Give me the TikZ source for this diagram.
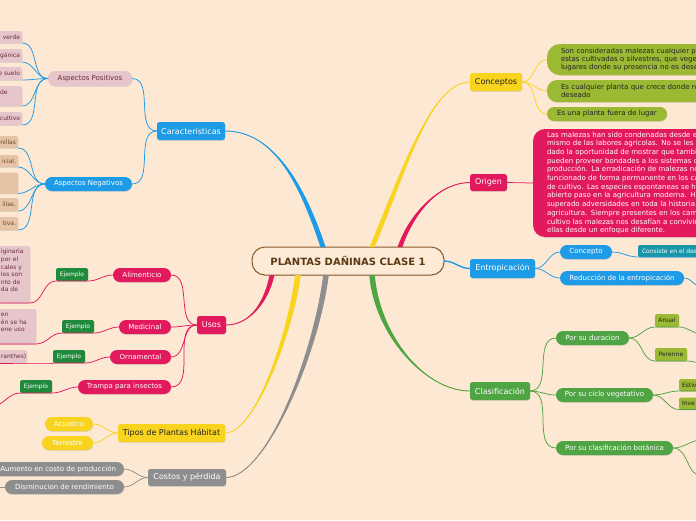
\documentclass[tikz,border=0pt]{standalone}
\usepackage{fontspec}
\setmainfont{DejaVu Sans}
\usetikzlibrary{calc,shadows}
\definecolor{bg}{HTML}{FDE8D4}
\definecolor{rootfill}{HTML}{FDEBD8}
\definecolor{rootdraw}{HTML}{8B5A2B}
\definecolor{roottext}{HTML}{5B3A14}
\definecolor{mmblue}{HTML}{1E9BE6}
\definecolor{mmred}{HTML}{E3195E}
\definecolor{mmyellow}{HTML}{F8D41F}
\definecolor{mmgray}{HTML}{8E8E8E}
\definecolor{mmgreen}{HTML}{4FA444}
\definecolor{mmolive}{HTML}{9CB934}
\definecolor{mmdkgreen}{HTML}{1F8A3B}
\definecolor{mmpink}{HTML}{E6C6CB}
\definecolor{mmtan}{HTML}{E6C3A5}
\definecolor{mmteal}{HTML}{1797A8}
\definecolor{maroon}{HTML}{6E2C40}
\definecolor{tanfg}{HTML}{6E4A2C}
\definecolor{darkfg}{HTML}{222222}
\newcommand\mmbranch[6]{%
  \fill[#1] ($(#2)+(-#6,0)$) .. controls +(#4) and +(#5) .. (#3) .. controls +(#5) and +(#4) .. ($(#2)+(#6,0)$) -- cycle;
  \draw[#1, line width=0.9pt] (#2) .. controls +(#4) and +(#5) .. (#3);}
\tikzset{
  nd/.style={inner sep=0pt, outer sep=0pt, align=center, drop shadow={shadow xshift=0.4pt,shadow yshift=-0.9pt,opacity=0.22}},
  bx/.style={nd, rounded corners=2.5pt, minimum height=18pt, font=\fontsize{8}{9.6}\selectfont},
  pl/.style={nd, rounded corners=7pt, minimum height=14pt, font=\fontsize{7}{8.4}\selectfont},
  tg/.style={nd, rounded corners=1.5pt, minimum height=13pt, font=\fontsize{6}{7.2}\selectfont},
  lf/.style={nd, rounded corners=2pt, font=\fontsize{6}{7.6}\selectfont, inner xsep=2pt, anchor=east},
  cn/.style={line width=0.75pt},
}
\begin{document}
\begin{tikzpicture}[x=1pt,y=-1pt]
\path[use as bounding box, fill=bg] (0,0) rectangle (696,520);
\clip (0,0) rectangle (696,520);

% root
\node[nd, rounded corners=13pt, minimum width=192pt, minimum height=28pt, fill=rootfill, draw=rootdraw, line width=1pt, text=roottext, font=\fontsize{10}{12}\selectfont\bfseries] (root) at (348,261) {PLANTAS DAÑINAS CLASE 1};

% main topics
\node[bx, fill=mmblue, text=white, minimum width=68pt] (car) at (191,131) {Características};
\node[bx, fill=mmyellow, text=darkfg, minimum width=52pt] (conc) at (496,82) {Conceptos};
\node[bx, fill=mmred, text=white, minimum width=37pt, minimum height=17pt] (ori) at (488.5,182.5) {Origen};
\node[bx, fill=mmblue, text=white, minimum width=65pt, minimum height=19pt] (ent) at (502.5,268.5) {Entropicación};
\node[bx, fill=mmgreen, text=white, minimum width=60pt] (cla) at (500,391) {Clasificación};
\node[bx, fill=mmred, text=white, minimum width=29pt] (usos) at (211.5,325) {Usos};
\node[bx, fill=mmyellow, text=darkfg, minimum width=107pt] (tipos) at (171.5,433) {Tipos de Plantas Hábitat};
\node[bx, fill=mmgray, text=white, minimum width=78pt, minimum height=17pt] (cos) at (187,477.5) {Costos y pérdida};

% branch start points
\coordinate (rb1) at ($(root.north)+(-25,0)$);
\coordinate (rb2) at ($(root.north)+(24,0)$);
\coordinate (rb3) at ($(root.north)+(52,0)$);
\coordinate (rb4) at ($(root.south)+(-76,0)$);
\coordinate (rb5) at ($(root.south)+(-50,0)$);
\coordinate (rb6) at ($(root.south)+(-22,0)$);
\coordinate (rb7) at ($(root.south)+(24,0)$);

\mmbranch{mmblue}{rb1}{car.east}{-20,-60}{50,0}{2.6}
\mmbranch{mmyellow}{rb2}{conc.west}{30,-70}{-40,0}{2.6}
\mmbranch{mmred}{rb3}{ori.west}{12,-35}{-30,0}{2.4}
\mmbranch{mmred}{rb4}{usos.east}{-5,25}{25,0}{2.4}
\mmbranch{mmyellow}{rb5}{tipos.east}{-8,60}{30,0}{2.8}
\mmbranch{mmgray}{rb6}{cos.east}{-10,80}{40,0}{2.8}
\mmbranch{mmgreen}{rb7}{cla.west}{5,60}{-45,0}{2.8}
\draw[mmblue, line width=1.4pt] (root.east) to[out=0,in=180] (ent.west);

% Caracteristicas subtree
\node[pl, fill=mmpink, text=maroon, minimum width=84pt, minimum height=15pt] (apos) at (90,78.5) {Aspectos Positivos};
\node[pl, fill=mmblue, text=white, minimum width=87pt] (aneg) at (88.5,184) {Aspectos Negativos};
\draw[cn, mmblue] (car.west) to[out=180,in=0] (apos.east);
\draw[cn, mmblue] (car.west) to[out=180,in=0] (aneg.east);

\node[lf, fill=mmpink, text=maroon, text width=40pt, align=right, minimum height=12pt] (p1) at (22,37) {verde};
\node[lf, fill=mmpink, text=maroon, text width=40pt, align=right, minimum height=13pt] (p2) at (22,55.5) {gánica};
\node[lf, fill=mmpink, text=maroon, text width=40pt, align=right, minimum height=13pt] (p3) at (22,73.5) {e suelo};
\node[lf, fill=mmpink, text=maroon, text width=20pt, align=left, minimum height=20pt] (p4) at (22,96) {de\\\mbox{}};
\node[lf, fill=mmpink, text=maroon, text width=40pt, align=right, minimum height=13pt] (p5) at (22,118.5) {cultivo};
\foreach \n in {p1,p2,p3,p4,p5} {\draw[cn, mmblue] (apos.west) to[out=180,in=0] (\n.south east);}

\node[lf, fill=mmtan, text=tanfg, text width=36pt, align=right, minimum height=12pt] (n1) at (18,142) {nillas};
\node[lf, fill=mmtan, text=tanfg, text width=36pt, align=right, minimum height=12pt] (n2) at (18,161) {icial.};
\node[lf, fill=mmtan, text=tanfg, text width=36pt, align=right, minimum height=21pt] (n3) at (18,183) {};
\node[lf, fill=mmtan, text=tanfg, text width=36pt, align=right, minimum height=13pt] (n4) at (18,204.5) {illas.};
\node[lf, fill=mmtan, text=tanfg, text width=36pt, align=right, minimum height=13pt] (n5) at (18,223.5) {tiva.};
\foreach \n in {n1,n2,n3,n4,n5} {\draw[cn, mmblue] (aneg.west) to[out=180,in=0] (\n.south east);}

% Usos subtree
\node[pl, fill=mmred, text=white, minimum width=58pt] (ali) at (142,275) {Alimenticio};
\node[pl, fill=mmred, text=white, minimum width=52pt] (med) at (145,327) {Medicinal};
\node[pl, fill=mmred, text=white, minimum width=61pt] (orn) at (140.5,357) {Ornamental};
\node[pl, fill=mmred, text=white, minimum width=93pt] (tra) at (124.5,387) {Trampa para insectos};
\foreach \n in {ali,med,orn,tra} {\draw[cn, mmred] (usos.west) to[out=180,in=0] (\n.east);}

\node[tg, fill=mmdkgreen, text=white, minimum width=32pt] (ej1) at (72,274.5) {Ejemplo};
\node[tg, fill=mmdkgreen, text=white, minimum width=32pt] (ej2) at (78,326.5) {Ejemplo};
\node[tg, fill=mmdkgreen, text=white, minimum width=32pt] (ej3) at (69,356.5) {Ejemplo};
\node[tg, fill=mmdkgreen, text=white, minimum width=32pt] (ej4) at (36,386.5) {Ejemplo};
\draw[cn, mmred] (ali.west) to[out=180,in=0] (ej1.south east) -- (ej1.south west);
\draw[cn, mmred] (med.west) to[out=180,in=0] (ej2.south east) -- (ej2.south west);
\draw[cn, mmred] (orn.west) to[out=180,in=0] (ej3.south east) -- (ej3.south west);
\draw[cn, mmred] (tra.west) to[out=180,in=0] (ej4.south east) -- (ej4.south west);

\node[lf, fill=mmpink, text=maroon, text width=27pt, align=left, minimum height=57pt] (e1) at (30,274.5) {iginaria\\por el\\cales y\\los son\\nto de\\da de\\\mbox{}};
\node[lf, fill=mmpink, text=maroon, text width=33pt, align=left, minimum height=35pt] (e2) at (36,326.5) {en\\én se ha\\ene uso\\\mbox{}};
\node[lf, fill=mmpink, text=maroon, text width=24pt, align=left, minimum height=13pt] (e3) at (27,356.5) {ranthes)};
\coordinate (e4) at (-8,406);
\draw[cn, mmred] (ej1.south west) to[out=180,in=0] (e1.south east) -- (e1.south west);
\draw[cn, mmred] (ej2.south west) to[out=180,in=0] (e2.south east) -- (e2.south west);
\draw[cn, mmred] (ej3.south west) to[out=180,in=0] (e3.south east) -- (e3.south west);
\draw[cn, mmred] (ej4.south west) to[out=180,in=0] (e4);

% Tipos subtree
\node[pl, fill=mmyellow, text=white, minimum width=48pt] (acu) at (69,424) {Acuatico};
\node[pl, fill=mmyellow, text=white, minimum width=51pt] (ter) at (67.5,443) {Terrestre};
\draw[cn, mmyellow] (tipos.west) to[out=180,in=0] (acu.east);
\draw[cn, mmyellow] (tipos.west) to[out=180,in=0] (ter.east);

% Costos subtree
\node[pl, fill=mmgray, text=white, inner xsep=8pt, anchor=east] (aum) at (124,469) {Aumento en costo de producción};
\node[pl, fill=mmgray, text=white, minimum width=119pt] (dis) at (64.5,487) {Disminucion de rendimiento};
\coordinate (disc) at (-8,487);
\draw[cn, mmgray] (cos.west) to[out=180,in=0] (aum.east);
\draw[cn, mmgray] (cos.west) to[out=180,in=0] (dis.east);
\draw[cn, mmgray] (dis.west) -- (disc);

% Conceptos subtree
\node[nd, fill=mmolive, text=darkfg, rounded corners=13pt, anchor=west, minimum height=31pt, text width=190pt, align=left, inner xsep=14pt, font=\fontsize{7}{8}\selectfont] (c1) at (547,59.5) {Son consideradas malezas cualquier pl\\estas cultivadas o silvestres, que vege\\lugares donde su presencia no es dese};
\node[nd, fill=mmolive, text=darkfg, rounded corners=10pt, anchor=west, minimum height=22pt, text width=190pt, align=left, inner xsep=14pt, font=\fontsize{7}{8}\selectfont] (c2) at (547,91) {Es cualquier planta que crece donde n\\deseado};
\node[pl, fill=mmolive, text=darkfg, minimum width=120pt] (c3) at (607,114) {Es una planta fuera de lugar};
\foreach \n in {c1,c2,c3} {\draw[cn, mmyellow] (conc.east) to[out=0,in=180] (\n.west);}

% Origen subtree
\node[nd, fill=mmred, text=white, rounded corners=12pt, anchor=west, minimum height=108pt, text width=200pt, align=left, inner xsep=14pt, font=\fontsize{7}{8.7}\selectfont] (otx) at (533,183) {Las malezas han sido condenadas desde e\\mismo de las labores agrícolas. No se les h\\dado la oportunidad de mostrar que tambi\\pueden proveer bondades a los sistemas d\\producción. La erradicación de malezas no\\funcionado de forma permanente en los ca\\de cultivo. Las especies espontaneas se ha\\abierto paso en la agricultura moderna. Ha\\superado adversidades en toda la historia\\agricultura. Siempre presentes en los cam\\cultivo las malezas nos desafían a convivir\\ellas desde un enfoque diferente.};
\draw[cn, mmred] (ori.east) -- (otx.west);

% Entropicacion subtree
\node[pl, fill=mmblue, text=white, minimum width=52pt] (cpto) at (586,252) {Concepto};
\node[pl, fill=mmblue, text=white, minimum width=124pt] (red) at (622,278) {Reducción de la entropicación};
\node[tg, fill=mmteal, text=white, anchor=west, minimum height=12pt, text width=90pt, align=left, inner xsep=4pt] (cons) at (638,251) {Consiste en el des};
\coordinate (redc) at (702,287);
\draw[cn, mmblue] (ent.east) to[out=0,in=180] (cpto.west);
\draw[cn, mmblue] (ent.east) to[out=0,in=180] (red.west);
\draw[cn, mmblue] (cpto.east) to[out=0,in=180] (cons.south west) -- (cons.south east);
\draw[cn, mmblue] (red.east) to[out=0,in=180] (redc);

% Clasificacion subtree
\node[pl, fill=mmgreen, text=white, minimum width=73pt] (dur) at (592.5,338) {Por su duracion};
\node[pl, fill=mmgreen, text=white, minimum width=97pt] (cic) at (604.5,395) {Por su ciclo vegetativo};
\node[pl, fill=mmgreen, text=white, minimum width=117pt] (bot) at (614.5,448) {Por su clasificación botánica};
\foreach \n in {dur,cic,bot} {\draw[cn, mmgreen] (cla.east) to[out=0,in=180] (\n.west);}

\node[tg, fill=mmolive, text=darkfg, minimum width=24pt] (anual) at (667,320.5) {Anual};
\node[tg, fill=mmolive, text=darkfg, minimum width=32pt] (pere) at (671,354.5) {Perenne};
\node[tg, fill=mmolive, text=darkfg, anchor=west, minimum height=12pt, text width=40pt, align=left, inner xsep=3pt] (estiv) at (679,385) {Estiv};
\node[tg, fill=mmolive, text=darkfg, anchor=west, minimum height=12pt, text width=40pt, align=left, inner xsep=3pt] (inve) at (679,403.5) {Inve};
\coordinate (anc) at (702,334);
\coordinate (pec) at (702,363);
\coordinate (bo1) at (702,440);
\coordinate (bo2) at (702,476);
\draw[cn, mmgreen] (dur.east) to[out=0,in=180] (anual.south west) -- (anual.south east) to[out=0,in=180] (anc);
\draw[cn, mmgreen] (dur.east) to[out=0,in=180] (pere.south west) -- (pere.south east) to[out=0,in=180] (pec);
\draw[cn, mmgreen] (cic.east) to[out=0,in=180] (estiv.south west) -- (estiv.south east);
\draw[cn, mmgreen] (cic.east) to[out=0,in=180] (inve.south west) -- (inve.south east);
\draw[cn, mmgreen] (bot.east) to[out=0,in=180] (bo1);
\draw[cn, mmgreen] (bot.east) to[out=0,in=180] (bo2);
\end{tikzpicture}
\end{document}
